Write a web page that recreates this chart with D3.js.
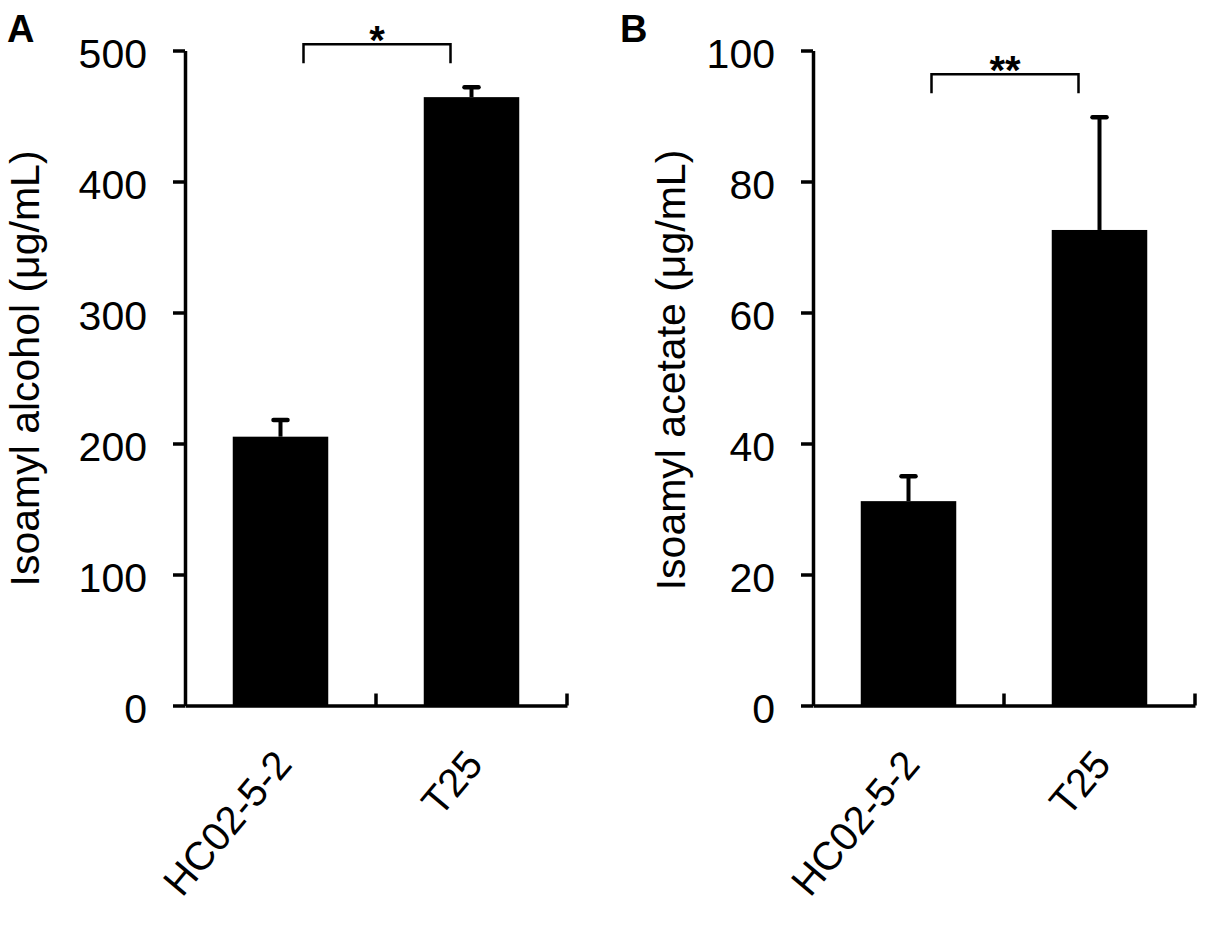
<!DOCTYPE html>
<html>
<head>
<meta charset="utf-8">
<script src="https://cdn.jsdelivr.net/npm/d3@7/dist/d3.min.js"></script>
<style>
  html, body { margin: 0; padding: 0; background: #fff; }
  svg { display: block; }
  text { font-family: "Liberation Sans", Arial, Helvetica, sans-serif; fill: #000; }
</style>
</head>
<body>
<svg id="chart" width="1207" height="925"></svg>
<script>
// ---------- data ----------
const categories = ["HC02-5-2", "T25"];

const alcoholMeans  = [205.2, 464.4];
const alcoholErrors = [12.8, 7.5];
const alcoholTicks  = [0, 100, 200, 300, 400, 500];

const acetateMeans  = [31.2, 72.6];
const acetateErrors = [3.8, 17.2];
const acetateTicks  = [0, 20, 40, 60, 80, 100];

const panelLetters  = ["A", "B"];
const axisTitles    = ["Isoamyl alcohol (\u03bcg/mL)", "Isoamyl acetate (\u03bcg/mL)"];
const significance  = ["*", "**"];

// ---------- layout ----------
const svg = d3.select("#chart");
const yTop = 50.5, yBottom = 705.5, plotW = 382;
const layouts = [
  { x0: 185, letterX: 7,   titleX: 38.5, titleY: 368.5 },
  { x0: 813, letterX: 620, titleX: 685,  titleY: 370 }
];
const panels = [
  { means: alcoholMeans, errors: alcoholErrors, ticks: alcoholTicks },
  { means: acetateMeans, errors: acetateErrors, ticks: acetateTicks }
];

panels.forEach((p, i) => {
  const L = layouts[i];
  const g = svg.append("g").attr("transform", `translate(${L.x0},0)`);

  const x = d3.scaleBand().domain(categories).range([0, plotW])
    .paddingInner(0.5).paddingOuter(0.25);
  const y = d3.scaleLinear().domain([0, d3.max(p.ticks)]).range([yBottom, yTop]);

  const rows = categories.map((c, k) => ({ cat: c, mean: p.means[k], err: p.errors[k] }));

  // bars
  g.selectAll("rect.bar").data(rows).join("rect")
    .attr("class", "bar")
    .attr("x", d => x(d.cat))
    .attr("width", x.bandwidth())
    .attr("y", d => y(d.mean))
    .attr("height", d => y(0) - y(d.mean))
    .attr("fill", "#000");

  // error bars (upper only)
  const cx = d => x(d.cat) + x.bandwidth() / 2;
  g.selectAll("line.stem").data(rows).join("line")
    .attr("x1", cx).attr("x2", cx)
    .attr("y1", d => y(d.mean)).attr("y2", d => y(d.mean + d.err))
    .attr("stroke", "#000").attr("stroke-width", 4);
  g.selectAll("line.cap").data(rows).join("line")
    .attr("x1", d => cx(d) - 7).attr("x2", d => cx(d) + 7)
    .attr("y1", d => y(d.mean + d.err)).attr("y2", d => y(d.mean + d.err))
    .attr("stroke", "#000").attr("stroke-width", 4.5).attr("stroke-linecap", "round");

  // y axis
  const yAxis = g.append("g")
    .call(d3.axisLeft(y).tickValues(p.ticks).tickSize(12).tickSizeOuter(0).tickPadding(26));
  yAxis.select(".domain").attr("stroke", "#000").attr("stroke-width", 3.5);
  yAxis.selectAll(".tick line").attr("stroke", "#000").attr("stroke-width", 3.5);
  yAxis.selectAll(".tick text")
    .attr("dy", "0.42em")
    .style("font-size", "41px")
    .style("font-family", '"Liberation Sans", Arial, sans-serif');

  // x axis line with upward boundary ticks
  const xAxis = g.append("g").attr("transform", `translate(0,${yBottom})`)
    .call(d3.axisBottom(x).tickSize(0).tickSizeOuter(0).tickFormat(""));
  xAxis.select(".domain").attr("stroke", "#000").attr("stroke-width", 3.5);
  const bounds = [0].concat(categories.map(c => x(c) + x.bandwidth() + x.step() * x.paddingInner() / 2));
  bounds[bounds.length - 1] = plotW;
  g.selectAll("line.xtick").data(bounds.slice(1)).join("line")
    .attr("x1", d => d).attr("x2", d => d)
    .attr("y1", yBottom).attr("y2", yBottom - 12)
    .attr("stroke", "#000").attr("stroke-width", 3.5);

  // category labels
  g.selectAll("text.cat").data(categories).join("text")
    .attr("class", "cat")
    .attr("transform", c => `translate(${x(c) + x.bandwidth() / 2 + 13},${yBottom + 60}) rotate(-50)`)
    .attr("text-anchor", "end")
    .style("font-size", "40px")
    .text(c => c);

  // axis title
  svg.append("text")
    .attr("transform", `translate(${L.titleX},${L.titleY}) rotate(-90)`)
    .attr("text-anchor", "middle")
    .style("font-size", "41px")
    .text(axisTitles[i]);

  // panel letter
  svg.append("text")
    .attr("x", L.letterX).attr("y", 42)
    .style("font-size", "38px").style("font-weight", "bold")
    .text(panelLetters[i]);

  // significance bracket
  const topVal = d3.max(rows, d => d.mean + d.err);
  const bTop = y(topVal) - 43;
  const bx1 = cx(rows[0]) + 23, bx2 = cx(rows[1]) - 21;
  g.append("path")
    .attr("d", `M${bx1},${bTop + 19}V${bTop}H${bx2}V${bTop + 19}`)
    .attr("fill", "none").attr("stroke", "#000").attr("stroke-width", 2.5);
  g.append("text")
    .attr("x", (bx1 + bx2) / 2).attr("y", bTop + 10)
    .attr("text-anchor", "middle")
    .style("font-size", "40px").style("font-weight", "bold")
    .text(significance[i]);
});
</script>
</body>
</html>
